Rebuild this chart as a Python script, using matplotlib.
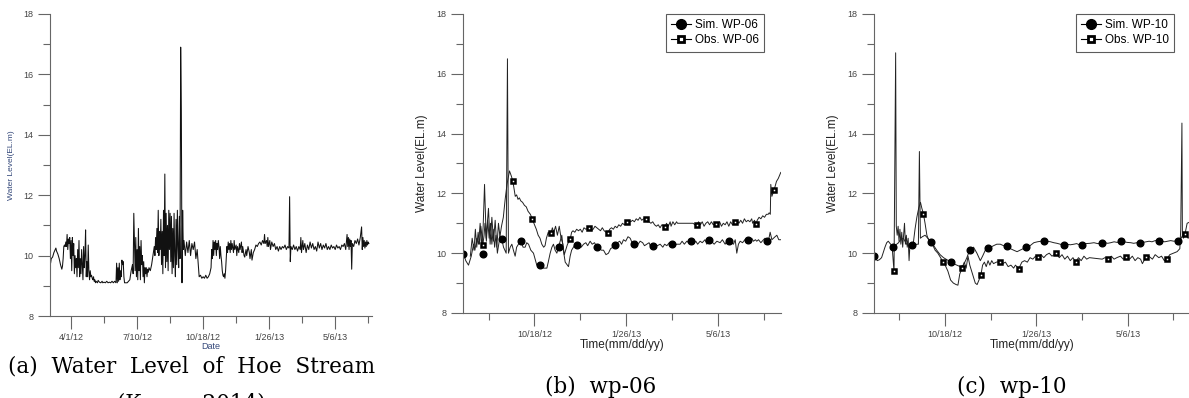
import numpy as np
import matplotlib
matplotlib.use("Agg")
import matplotlib.pyplot as plt
import matplotlib.dates as mdates
from matplotlib.lines import Line2D
from matplotlib.ticker import FixedLocator, MultipleLocator

plt.rcParams['font.family'] = ['Liberation Sans', 'DejaVu Sans']

# ---- panel (a): Hoe Stream water level, days since 2012-02-29
start_a = np.datetime64('2012-02-29')
a_days = [0, 1, 2, 4, 6, 8, 9, 10, 12, 14, 16, 18, 19, 20, 21, 22,
          23, 24, 25, 26, 27, 28, 29, 30, 31, 32, 33, 34, 35, 36, 37, 38, 39, 40,
          41, 42, 43, 44, 45, 46, 47, 48, 49, 50, 51, 52, 53, 54, 55, 56, 57, 58, 59,
          60, 61, 62, 63, 64, 65, 66, 67, 68, 69, 70, 72, 73, 75, 77, 79, 80, 82, 84,
          86, 88, 90, 92, 94, 96, 98, 100, 101, 102, 103, 104, 105, 106, 107, 108, 109,
          110, 111, 112, 113, 115, 117, 119, 121, 123, 125, 126, 127, 128, 129, 130,
          131, 132, 133, 134, 135, 136, 137, 138, 139, 140, 141, 142, 143, 144, 145,
          146, 147, 148, 149, 150, 152, 154, 156, 158, 159, 160, 161, 162, 163, 164,
          165, 166, 167, 168, 169, 170, 171, 172, 173, 174, 175, 176, 177, 178, 179,
          180, 181, 182, 183, 184, 185, 186, 187, 188, 189, 190, 191, 192, 193, 194,
          195, 196, 197, 198, 199, 200, 201, 202, 203, 205, 207, 209, 211, 213, 215,
          217, 219, 221, 223, 225, 226, 228, 230, 232, 234, 236, 238, 240, 242, 244,
          245, 246, 247, 248, 249, 250, 251, 252, 253, 254, 255, 256, 257, 258, 259,
          260, 261, 262, 263, 264, 265, 266, 267, 268, 269, 270, 271, 272, 273, 274,
          275, 276, 278, 279, 280, 282, 283, 284, 286, 287, 288, 290, 291, 292, 294,
          295, 297, 298, 300, 302, 303, 305, 306, 308, 310, 312, 314, 316, 318, 320,
          322, 324, 325, 326, 328, 329, 330, 331, 333, 334, 336, 338, 340, 342, 344,
          346, 348, 350, 352, 354, 356, 358, 360, 362, 363, 364, 365, 367, 369, 371,
          373, 375, 377, 379, 380, 381, 383, 384, 386, 388, 390, 392, 394, 396, 398,
          400, 402, 404, 406, 408, 410, 412, 414, 416, 418, 420, 422, 424, 426, 428,
          430, 432, 434, 436, 438, 440, 442, 444, 446, 448, 450, 451, 452, 453, 454,
          455, 456, 457, 458, 460, 462, 464, 466, 468, 470, 472, 473, 474, 475, 476,
          477, 478, 479, 480, 481, 482, 483]
a_level = [9.85, 9.75, 9.9, 9.95, 10.1, 10.2, 10.25, 10.15, 10.05, 9.9, 9.7, 9.55, 9.65, 9.9, 10.3, 10.35,
           10.3, 10.45, 10.3, 10.7, 10.2, 10.55, 10.4, 10.6, 9.9, 10.5, 9.5, 10.6, 10.0, 10.4, 9.4, 10.0, 9.6, 9.9,
           9.3, 10.2, 9.6, 10.5, 9.3, 9.9, 9.4, 10.2, 9.7, 9.2, 10.3, 9.6, 10.0, 10.85, 9.3, 9.8, 9.3, 10.35, 9.5,
           9.2, 9.5, 9.3, 9.35, 9.25, 9.2, 9.3, 9.15, 9.2, 9.1, 9.15, 9.1, 9.18, 9.12, 9.1, 9.15, 9.1, 9.12, 9.1,
           9.15, 9.1, 9.12, 9.1, 9.15, 9.1, 9.15, 9.1, 9.75, 9.1, 9.6, 9.15, 9.75, 9.2, 9.5, 9.3, 9.85,
           9.7, 9.8, 9.3, 9.1, 9.1, 9.1, 9.15, 9.2, 9.5, 9.7, 9.4, 11.4, 10.4, 9.5, 10.6,
           9.3, 10.2, 9.2, 10.9, 9.5, 10.3, 9.2, 10.5, 9.7, 10.0, 9.3, 9.8, 9.1, 9.6, 9.4,
           9.6, 9.3, 9.55, 9.45, 9.6, 9.5, 9.7, 10.0, 10.3, 10.0, 10.6, 10.2, 10.9, 10.1, 11.5,
           10.0, 10.8, 10.2, 11.2, 9.7, 10.8, 9.4, 11.5, 10.0, 12.7, 9.6, 11.4, 9.8, 11.0, 9.5,
           11.5, 10.2, 11.4, 9.8, 11.3, 9.4, 10.9, 9.6, 11.4, 10.0, 9.3, 11.2, 9.7, 11.5, 10.3,
           9.6, 11.3, 9.9, 16.9, 14.8, 9.1, 11.5, 10.2, 10.5, 10.0, 10.45, 10.1, 10.5, 10.0, 10.4,
           10.2, 10.45, 9.9, 10.2, 9.6, 9.3, 9.35, 9.25, 9.3, 9.25, 9.35, 9.25, 9.3, 9.4, 9.6,
           10.2, 9.9, 10.5, 10.0, 10.45, 10.2, 10.5, 10.0, 10.4, 10.2, 10.5, 10.3, 9.9, 10.3, 10.0,
           9.8, 9.5, 9.35, 9.3, 9.4, 9.25, 9.5, 9.9, 10.3, 10.1, 10.45, 10.2, 10.4, 10.1, 10.5,
           10.2, 10.4, 10.1, 10.5, 10.2, 10.35, 10.0, 10.3, 10.1, 10.4, 10.2, 10.45, 10.1, 10.3, 10.0,
           9.95, 10.2, 10.0, 10.3, 10.1, 9.9, 10.2, 9.85, 10.1, 10.2, 10.35, 10.3, 10.4, 10.45, 10.35,
           10.5, 10.4, 10.7, 10.4, 10.5, 10.3, 10.6, 10.3, 10.5, 10.2, 10.45, 10.3, 10.4, 10.2, 10.3,
           10.15, 10.3, 10.2, 10.3, 10.25, 10.35, 10.2, 10.3, 10.25, 11.95, 9.8, 10.3, 10.2, 10.35, 10.2,
           10.3, 10.15, 10.3, 10.2, 10.6, 10.1, 10.5, 10.2, 10.4, 10.1, 10.35, 10.2, 10.45, 10.25, 10.4,
           10.2, 10.3, 10.15, 10.45, 10.25, 10.4, 10.2, 10.35, 10.25, 10.4, 10.2, 10.3, 10.2, 10.35, 10.25,
           10.3, 10.2, 10.35, 10.25, 10.3, 10.2, 10.35, 10.3, 10.4, 10.2, 10.7, 10.3, 10.6, 10.2, 10.55,
           10.3, 10.5, 9.55, 10.4, 10.3, 10.5, 10.4, 10.55, 10.35, 10.6, 10.95, 10.2, 10.6, 10.3, 10.5,
           10.25, 10.45, 10.3, 10.5, 10.35, 10.45, 10.4]
a_ticks = ['2012-04-01', '2012-07-10', '2012-10-18', '2013-01-26', '2013-05-06']
a_ticklabels = ['4/1/12', '7/10/12', '10/18/12', '1/26/13', '5/6/13']

# ---- panels (b), (c): days since 2012-08-01
start_bc = np.datetime64('2012-08-01')
bc_ticks = ['2012-10-18', '2013-01-26', '2013-05-06']
bc_ticklabels = ['10/18/12', '1/26/13', '5/6/13']

b_sim_days = [0.5, 3, 6, 9, 11.5, 13, 15, 17, 18.7, 20.5, 22, 23.5, 25.3, 26.5, 27.8, 29.6, 31.5, 33.3,
              35.1, 36.9, 38.7, 40.5, 42.4, 44.2, 47.1, 48.5, 49.6, 51.5, 53.3, 55, 56.9, 58.5, 60.5,
              63.1, 65.5, 67.8, 69.5, 71.5, 74, 76.9, 80.5, 83.5, 87.8, 91.5, 93, 95.1, 97, 98.7, 100.5,
              102.4, 104.2, 106, 107.8, 109.5, 111.5, 115.1, 116.9, 118.5, 120.5, 122.5, 124.9, 127,
              129, 131.5, 134, 136, 138.7, 141, 143.5, 146, 149, 151, 153.3, 156, 158.7, 161, 163.5,
              166, 168.5, 171, 173, 175.1, 177.5, 180, 182.4, 184.5, 186.7, 189, 191, 193.3, 196,
              198, 200.5, 203, 205, 207.1, 209.5, 212, 215.1, 218, 220, 222.4, 225, 227.8, 230, 233,
              236.9, 239, 241.5, 244.2, 246.5, 248.9, 251, 254, 256, 258.7, 261, 264, 266, 268.9,
              271, 274, 277, 280.5, 283, 286, 288, 290.4, 293, 295.1, 297, 298.7, 300.5, 302.4, 305,
              307.5, 310.4, 313, 315, 316.9, 319, 320.5, 322.4, 325, 327.8, 329.5, 331.5, 333.5,
              335.1, 337, 338.7, 340.5, 342.4, 344.5, 346.7]
b_sim_level = [10.0, 9.75, 9.6, 9.9, 10.3, 10.1, 10.5, 10.3, 11.0, 10.2, 10.9, 12.3, 10.5, 11.0, 11.5, 10.3, 11.2, 10.4,
               11.1, 10.2, 11.0, 10.5, 10.46, 10.2, 10.0, 16.5, 10.0, 10.2, 10.3, 10.1, 9.9, 10.2, 10.3,
               10.42, 10.2, 10.2, 10.35, 10.3, 10.1, 10.0, 9.6, 9.6, 9.5, 9.5, 9.7, 10.0, 10.2, 10.3, 10.1,
               10.0, 10.2, 10.4, 10.6, 10.1, 9.7, 9.55, 9.9, 10.1, 10.2, 10.3, 10.27, 10.3,
               10.2, 10.3, 10.35, 10.25, 10.4, 10.3, 10.35, 10.21, 10.15, 10.1, 10.1, 9.95, 10.0, 10.15, 10.2,
               10.27, 10.35, 10.4, 10.3, 10.45, 10.4, 10.55, 10.5, 10.35, 10.31, 10.4, 10.3, 10.4, 10.35,
               10.25, 10.3, 10.35, 10.2, 10.24, 10.3, 10.25, 10.3, 10.2, 10.3, 10.25, 10.35, 10.31, 10.25, 10.3,
               10.3, 10.4, 10.3, 10.4, 10.35, 10.42, 10.3, 10.4, 10.3, 10.4, 10.35, 10.45, 10.3, 10.45,
               10.4, 10.3, 10.4, 10.35, 10.45, 10.3, 10.4, 10.42, 10.35, 10.3, 10.45, 10.0, 10.3, 10.4, 10.35,
               10.45, 10.44, 10.4, 10.5, 10.4, 10.45, 10.4, 10.45, 10.35, 10.45, 10.5, 10.42, 10.45,
               10.7, 10.45, 10.5, 10.55, 10.6, 10.45, 10.45]
b_obs_days = [8, 10, 12, 13.5, 15, 16.5, 18, 19.5, 21.6, 23, 24, 25.5, 27, 28.5, 30, 31.5, 33, 34.5,
              36, 37.5, 39, 40.5, 42, 44, 46, 48, 50.7, 52.5, 54.4, 56, 57, 58.5, 60, 61.5, 63, 65, 67,
              69, 71, 73.5, 75.8, 78, 80, 82, 84, 86, 88, 89.5, 91, 93, 94.5, 96.2, 97.5, 99, 101, 103,
              105, 107, 109, 110.5, 112, 114, 116.9, 118.5, 120, 122, 124, 126, 128, 130, 132, 134,
              137.6, 140, 142, 144, 146, 148, 150, 152, 154, 156, 158, 160, 162, 164, 166, 168, 170,
              172, 174, 176, 178.7, 181, 183, 185, 187, 189, 191, 193, 195, 197, 199.5, 201, 203,
              205, 207, 209, 211, 213, 215, 217, 220.5, 222, 224, 226, 227, 229, 231, 233, 234, 237,
              251, 253, 255.1, 257, 259, 261, 263, 265, 267, 269, 271, 273, 275.8, 278, 280, 282, 284,
              286, 288, 290, 292, 294, 296.9, 299, 301, 303, 305, 307, 309, 311, 313, 315, 316, 318,
              319.8, 321, 323, 325, 327, 329, 331, 333, 334, 335.3, 335.8, 337, 339.5, 342, 344, 346.7]
b_obs_level = [9.9, 10.5, 10.1, 10.8, 10.2, 10.7, 10.3, 10.9, 10.27, 10.6, 11.0, 10.4, 11.1, 10.5, 11.0, 10.3, 10.8, 10.2,
               10.6, 10.0, 10.3, 10.6, 10.9, 11.2, 11.8, 12.3, 12.75, 12.6, 12.41, 12.1, 11.9, 11.95, 11.8, 11.85, 11.75, 11.7, 11.6,
               11.55, 11.4, 11.3, 11.13, 10.95, 10.8, 10.6, 10.5, 10.3, 10.2, 10.25, 10.5, 10.7, 10.6, 10.69, 10.85, 10.7, 10.9, 10.6,
               10.9, 10.5, 10.3, 9.95, 10.1, 10.3, 10.46, 10.7, 10.75, 10.7, 10.8, 10.75, 10.8, 10.7, 10.85, 10.8,
               10.85, 10.75, 10.8, 10.9, 10.85, 10.8, 10.75, 10.85, 10.75, 10.7, 10.66, 10.8, 10.85, 10.8, 10.9, 10.85, 10.95,
               10.9, 11.0, 10.95, 11.04, 11.1, 11.05, 11.1, 11.05, 11.15, 11.1, 11.2, 11.1, 11.15, 11.15, 11.05, 11.05,
               11.0, 11.05, 10.95, 10.9, 10.95, 10.85, 10.95, 10.87, 11.0, 10.9, 11.05, 10.9, 11.05, 10.95, 11.05, 11.0, 11.0,
               11.0, 10.95, 10.95, 11.05, 10.95, 11.05, 10.9, 11.0, 11.05, 10.95, 11.05, 10.95, 10.99, 10.95, 11.05, 10.9, 11.0,
               10.95, 11.05, 10.9, 11.05, 10.95, 11.04, 11.1, 11.0, 11.1, 11.0, 11.15, 11.05, 11.1, 11.05, 11.15, 11.0, 11.1,
               10.98, 11.1, 11.2, 11.15, 11.25, 11.2, 11.3, 11.3, 11.35, 11.3, 12.3, 11.9, 12.12, 12.4, 12.5, 12.7]
b_sim_mark_days = [0.5, 21.6, 42.4, 63.1, 83.5, 104.2, 124.9, 146, 166, 186.7, 207.1, 227.8, 248.9,
                   268.9, 290.4, 310.4, 331.5]
b_sim_mark_level = [9.96, 9.96, 10.46, 10.42, 9.6, 10.2, 10.27, 10.21, 10.27, 10.31, 10.24, 10.31, 10.42,
                    10.45, 10.42, 10.44, 10.42]
b_obs_mark_days = [21.6, 54.4, 75.8, 96.2, 116.9, 137.6, 158, 178.7, 199.5, 220.5, 255.1, 275.8, 296.9,
                   319.8, 339.5]
b_obs_mark_level = [10.27, 12.41, 11.13, 10.69, 10.46, 10.85, 10.66, 11.04, 11.15, 10.87, 10.95, 10.99,
                    11.04, 10.98, 12.12]

c_sim_days = [0.3, 3.6, 6, 8.4, 10, 12.1, 14, 15.7, 18.3, 21.2, 23, 24.9, 27, 29, 32.2, 34, 35.9,
              38, 40, 42.1, 44.5, 46.9, 48.7, 49.8, 50.9, 53, 56, 59, 62.6, 65.5, 68.8, 72.5, 76.2,
              80, 83.9, 87, 90.8, 94.5, 98.1, 101.8, 104.7, 107, 109.1, 112.8, 116.5, 119, 122,
              125.3, 128, 131, 134.5, 138.4, 142, 146.1, 149.5, 153, 156.8, 160, 163.5, 167, 171,
              175.1, 179, 183, 186.8, 190, 193.5, 197, 200.5, 204, 208, 211.5, 215, 219, 222, 225,
              228.2, 232, 236.5, 241, 245, 249.4, 253, 256, 259.3, 263, 266.5, 270.3, 274, 277.5,
              281.3, 284.5, 288, 291.2, 294.5, 298, 301.4, 304.5, 308, 311.7, 315, 318.5, 321.6,
              325, 328.5, 332.6, 335, 336.5, 338, 340, 342, 344, 346.5]
c_sim_level = [9.92, 9.75, 9.78, 9.85, 10.0, 10.2, 10.35, 10.4, 10.3, 10.19, 10.25, 10.3, 10.35, 10.45, 10.5, 10.4, 10.3,
               10.25, 10.3, 10.27, 10.25, 10.3, 10.3, 13.4, 10.5, 10.55, 10.6, 10.5, 10.38, 10.25, 10.1, 9.95, 9.85,
               9.78, 9.71, 9.65, 9.6, 9.55, 9.6, 9.85, 10.09, 10.15, 10.2, 10.0, 9.75, 9.9, 10.1,
               10.16, 10.2, 10.25, 10.3, 10.3, 10.25, 10.23, 10.15, 10.1, 10.05, 10.1, 10.15, 10.19, 10.25,
               10.35, 10.38, 10.4, 10.42, 10.4, 10.38, 10.35, 10.33, 10.3, 10.27, 10.3, 10.28, 10.3, 10.32, 10.28,
               10.29, 10.32, 10.33, 10.35, 10.32, 10.33, 10.35, 10.33, 10.35, 10.38, 10.36, 10.4, 10.38, 10.36,
               10.35, 10.33, 10.35, 10.33, 10.36, 10.38, 10.4, 10.38, 10.42, 10.42, 10.4, 10.38, 10.4,
               10.42, 10.4, 10.42, 10.45, 10.5, 10.6, 10.55, 10.6, 10.5, 10.55]
c_obs_days = [20, 22, 23.8, 24.5, 25.5, 26.5, 27.5, 28.5, 29.5, 30.5, 31.5, 32.5, 33.5, 34.5, 35.5,
              36.5, 37.5, 38.5, 39.5, 41, 43, 45, 47, 49, 51, 52.5, 54.2, 56, 58, 61, 64, 67, 70, 73,
              75.4, 78, 81, 84, 87, 90, 92, 94, 96.7, 99, 101, 103, 105, 107, 109, 111, 113, 115,
              117.2, 119, 121, 123, 125, 127, 129, 131, 134, 137.7, 141, 144, 147, 150, 153, 155,
              158.6, 162, 165, 168, 171, 174, 177, 179.5, 183, 186, 189, 192, 195, 199.6, 203, 206,
              209, 212, 215, 218, 220.9, 224, 227, 230, 233, 236, 250, 253, 256.4, 260, 263, 266,
              270, 273, 276.5, 280, 283, 286, 289, 292, 294, 297.8, 301, 305, 308, 312, 315, 318,
              320.5, 324, 328, 332, 335, 336, 337.3, 337.8, 339, 340.6, 343, 346.5]
c_obs_level = [10.2, 9.39, 16.7, 10.9, 10.6, 10.9, 10.4, 10.8, 10.3, 10.7, 10.2, 10.6, 11.0, 10.3, 10.6,
               10.2, 10.5, 9.75, 10.3, 10.25, 10.3, 10.8, 11.2, 11.5, 11.7, 11.5, 11.32, 11.0, 10.6, 10.35, 10.3, 10.1, 10.0, 9.85,
               9.72, 9.6, 9.4, 9.1, 9.0, 8.95, 8.93, 9.3, 9.52, 9.7, 9.5, 9.9, 9.6, 9.4, 9.2, 9.0, 8.95, 9.1,
               9.28, 9.6, 9.7, 9.55, 9.75, 9.6, 9.75, 9.65, 9.7, 9.72, 9.65, 9.7, 9.55, 9.6, 9.5, 9.6,
               9.48, 9.7, 9.75, 9.7, 9.85, 9.8, 9.9, 9.88, 9.95, 9.85, 9.95, 10.0, 9.9, 10.0, 9.85, 9.95,
               9.8, 9.9, 9.75, 9.85, 9.7, 9.85, 9.75, 9.9, 9.8, 9.85, 9.8, 9.85, 9.81, 9.9, 9.8, 9.85,
               9.9, 9.8, 9.86, 9.8, 9.9, 9.75, 9.85, 9.8, 9.65, 9.87, 9.9, 9.8, 9.95, 9.85, 9.9, 9.75,
               9.79, 9.95, 10.0, 10.05, 10.15, 10.8, 14.35, 10.6, 10.5, 10.63, 11.0, 11.05]
c_sim_mark_days = [0.4, 21.3, 42.1, 62.6, 83.9, 104.7, 125.3, 146, 167, 186.8, 208, 228.2, 249.4,
                   270.3, 291.2, 311.7, 332.6]
c_sim_mark_level = [9.92, 10.19, 10.27, 10.38, 9.71, 10.09, 10.16, 10.23, 10.19, 10.42, 10.27, 10.29,
                    10.33, 10.4, 10.33, 10.42, 10.42]
c_obs_mark_days = [22, 54.2, 75.4, 96.7, 117.2, 137.7, 158.6, 179.5, 199.6, 220.9, 256.4, 276.5, 297.8,
                   320.5, 340.6]
c_obs_mark_level = [9.39, 11.32, 9.72, 9.52, 9.28, 9.72, 9.48, 9.88, 10.0, 9.7, 9.81, 9.86, 9.87, 9.79,
                    10.63]


def to_dates(start, days):
    return start + (np.array(days) * 24 * 3600).astype('timedelta64[s]')


def style_axis(ax, start, end, ticks, ticklabels, ylab_size, ylab_color):
    ax.set_ylim(8, 18)
    ax.set_xlim(start, end)
    for s in ['top', 'right']:
        ax.spines[s].set_visible(False)
    for s in ['left', 'bottom']:
        ax.spines[s].set_color('#666666')
        ax.spines[s].set_linewidth(0.8)
    ax.yaxis.set_major_locator(MultipleLocator(2))
    ax.yaxis.set_minor_locator(MultipleLocator(1))
    tick_nums = mdates.date2num(np.array(ticks, dtype='datetime64[D]'))
    ax.xaxis.set_major_locator(FixedLocator(tick_nums))
    ax.set_xticklabels(ticklabels)
    minor = list(tick_nums - 50) + [tick_nums[-1] + 50]
    ax.xaxis.set_minor_locator(FixedLocator(minor))
    ax.tick_params(which='major', direction='out', length=9, width=0.8, color='#666666',
                   labelsize=6.5, labelcolor='#444444', pad=3)
    ax.tick_params(which='minor', direction='out', length=5, width=0.8, color='#666666')
    ax.set_ylabel('Water Level(EL.m)', fontsize=ylab_size, color=ylab_color, labelpad=6)


fig = plt.figure(figsize=(11.89, 3.98), dpi=100)

# (a)
ax1 = fig.add_axes([0.042, 0.206, 0.271, 0.759])
ax1.plot(to_dates(start_a, a_days), a_level, color='#111111', lw=0.75)
style_axis(ax1, start_a, to_dates(start_a, [488])[0], a_ticks, a_ticklabels, 6, '#34487a')
ax1.set_xlabel('Date', fontsize=6.5, color='#34487a', labelpad=0)

# (b) and (c)
end_bc = to_dates(start_bc, [347])[0]
panels = [
    ([0.3894, 0.2136, 0.2675, 0.7514], b_sim_days, b_sim_level, b_obs_days, b_obs_level,
     b_sim_mark_days, b_sim_mark_level, b_obs_mark_days, b_obs_mark_level, 'WP-06'),
    ([0.735, 0.2136, 0.2665, 0.7514], c_sim_days, c_sim_level, c_obs_days, c_obs_level,
     c_sim_mark_days, c_sim_mark_level, c_obs_mark_days, c_obs_mark_level, 'WP-10'),
]
for rect, sd, sl, od, ol, smd, sml, omd, oml, name in panels:
    ax = fig.add_axes(rect)
    ax.plot(to_dates(start_bc, sd), sl, color='#222222', lw=0.7)
    ax.plot(to_dates(start_bc, od), ol, color='#222222', lw=0.7)
    ax.plot(to_dates(start_bc, smd), sml, 'o', color='black', ms=4.8, ls='none')
    ax.plot(to_dates(start_bc, omd), oml, 's', mfc='white', mec='black', mew=1.8, ms=3.4, ls='none')
    style_axis(ax, start_bc, end_bc, bc_ticks, bc_ticklabels, 8.5, '#222222')
    ax.set_xlabel('Time(mm/dd/yy)', fontsize=8.5, color='#222222', labelpad=0)
    handles = [Line2D([], [], color='black', lw=0.8, marker='o', ms=7),
               Line2D([], [], color='black', lw=0.8, marker='s', mfc='white', mec='black', mew=2, ms=4)]
    leg = ax.legend(handles, ['Sim. ' + name, 'Obs. ' + name], loc='upper right',
                    bbox_to_anchor=(0.947, 1.0), borderaxespad=0, fontsize=8.5, frameon=True,
                    fancybox=False, handlelength=1.7, handletextpad=0.3, borderpad=0.45,
                    labelspacing=0.25)
    leg.get_frame().set_edgecolor('#333333')
    leg.get_frame().set_linewidth(0.8)

# captions
cap_font = dict(family='DejaVu Serif', fontsize=15.5, ha='center', va='center')
fig.text(0.161, 1 - 367 / 398, '(a)  Water  Level  of  Hoe  Stream', **cap_font)
fig.text(0.161, 1 - 404 / 398, '(Kang,  2014)', **cap_font)
fig.text(601 / 1189, 1 - 387 / 398, '(b)  wp-06', **cap_font)
fig.text(1012 / 1189, 1 - 387 / 398, '(c)  wp-10', **cap_font)

fig.savefig('out.png', dpi=100)
